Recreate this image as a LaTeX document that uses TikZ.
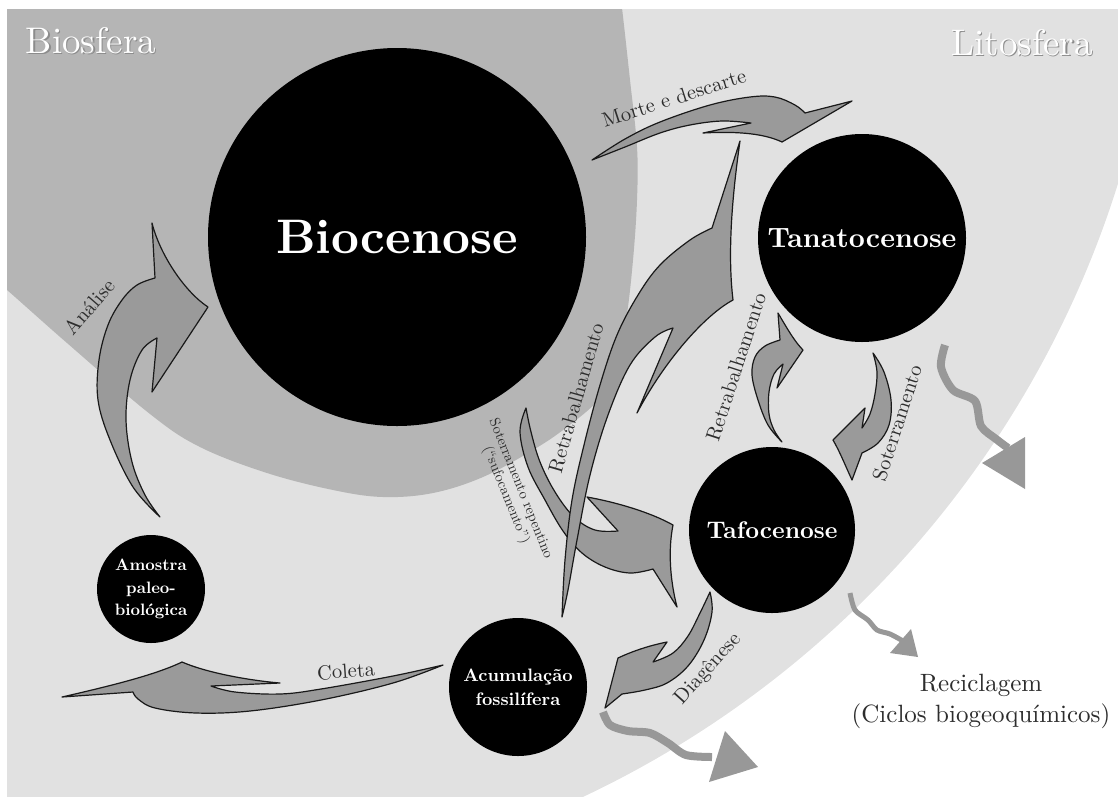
\documentclass[tikz,border=0pt]{standalone}
\usepackage{fontspec}
\setmainfont{lmroman10-regular}[Extension=.otf, BoldFont=lmroman10-bold, ItalicFont=lmroman10-italic]
\usepackage{xcolor}
\usepackage{tikz}
\usetikzlibrary{calc}

\definecolor{bioGray}{RGB}{181,181,181}
\definecolor{litoGray}{RGB}{225,225,225}
\definecolor{arrGray}{RGB}{154,154,154}
\definecolor{waveGray}{RGB}{152,152,152}
\definecolor{txtGray}{RGB}{45,45,45}

\begin{document}
\begin{tikzpicture}[
  x=1pt, y=-1pt,
  circ/.style={circle, fill=black, text=white, inner sep=0pt, align=center},
  swoosh/.style={fill=arrGray, draw=black!90, line width=1.2pt, line join=round},
  wave/.style={draw=waveGray, line width=8pt},
  wavehead/.style={fill=waveGray},
  lbl/.style={text=txtGray, inner sep=0pt, font=\fontsize{20.5}{24}\selectfont},
  sphere/.style={text=white, inner sep=0pt, anchor=base, font=\fontsize{37}{40}\selectfont},
  sphereshade/.style={sphere, text=black!45}
]
  \useasboundingbox (0,0) rectangle (1118,796);
  \begin{scope}
    \clip (7,9) rectangle (1118,796);
    \fill[litoGray] (152,-119) circle[radius=1012];
    \fill[bioGray] plot[smooth, tension=0.6] coordinates {(-20,268) (7,290) (67,343)
      (150,414) (200,447) (267,473) (333,490) (383,497) (433,493) (483,477) (533,450)
      (567,427) (600,398) (615,365) (626,320) (633,260) (637,200) (637,147) (630,80)
      (622,8) (618,-20)} -- (-20,-20) -- cycle;
  \end{scope}

  \node[sphereshade] (bioshade)  at (92.2,54.2)   {Biosfera};
  \node[sphere]      (biosfera)  at (91,53)       {Biosfera};
  \node[sphereshade] (litoshade) at (1023.2,56.2) {Litosfera};
  \node[sphere]      (litosfera) at (1022,55)     {Litosfera};

  \node[circ, minimum size=378, font=\fontsize{48.5}{50}\selectfont\bfseries]
    (bio) at (397,237) {Biocenose};
  \node[circ, minimum size=208, font=\fontsize{28}{30}\selectfont\bfseries]
    (tanato) at (862,238) {Tanatocenose};
  \node[circ, minimum size=166, font=\fontsize{24}{26}\selectfont\bfseries]
    (tafo) at (772,530) {Tafocenose};
  \node[circ, minimum size=138, font=\fontsize{18}{24}\selectfont\bfseries]
    (acum) at (518,687) {Acumulação\\fossilífera};
  \node[circ, minimum size=108, font=\fontsize{16.5}{22.5}\selectfont\bfseries]
    (amostra) at (151,589) {Amostra\\paleo-\\biológica};

  \draw[wave] plot[smooth] coordinates {(603,712) (610,725) (628,731) (650,733)
    (668,743) (686,755) (712,757)};
  \fill[wavehead] (725,731) -- (758,767) -- (709,782) -- cycle;
  \draw[wave, line width=5pt] plot[smooth] coordinates {(850,593) (855,610) (868,620)
    (877,630) (890,634) (903,641)};
  \fill[wavehead] (890,653) -- (911,629) -- (918,657) -- cycle;
  \draw[wave] plot[smooth] coordinates {(945,345) (941,367) (953,390) (975,401)
    (981,426) (996,439) (1008,448)};
  \fill[wavehead] (982,463) -- (1025,437) -- (1025,489) -- cycle;

  \filldraw[swoosh] plot[smooth, tension=0.6] coordinates {(160,517) (133,487) (110,440)
      (98,400) (99,360) (108,325) (122,300) (137,285) (155,278)}
    -- (152,223) .. controls (160,255) and (185,292) .. (208,307)
    -- (152,392) -- (157,338)
    -- plot[smooth, tension=0.6] coordinates {(157,338) (142,350) (130,380) (126,420)
      (132,462) (145,495) (160,517)} -- cycle;

  \filldraw[swoosh] plot[smooth, tension=0.6] coordinates {(592,160) (625,139) (660,122)
      (710,105) (750,97) (775,97) (795,105) (805,113)}
    -- (852,101) -- (782,142) .. controls (765,134) and (740,131) .. (703,133)
    -- (751,123) -- plot[smooth, tension=0.6] coordinates {(751,123) (722,121) (690,125)
      (660,133) (625,147) (592,160)} -- cycle;

  \filldraw[swoosh] plot[smooth, tension=0.6] coordinates {(526,408) (520,432) (528,467)
      (545,500) (563,531) (582,553) (605,567) (630,573) (653,569)}
    -- (677,607) .. controls (670,580) and (668,550) .. (673,525)
    .. controls (650,512) and (615,502) .. (587,497)
    -- (618,531) -- plot[smooth, tension=0.6] coordinates {(618,531) (595,530) (574,517)
      (555,492) (540,462) (531,432) (526,408)} -- cycle;

  \filldraw[swoosh] plot[smooth, tension=0.6] coordinates {(562,617) (565,560) (572,500)
      (584,445) (600,385) (617,335) (638,295) (660,265) (690,240) (712,228)}
    -- (740,141) .. controls (733,190) and (727,250) .. (733,300)
    .. controls (705,315) and (665,360) .. (637,413)
    -- (673,328) -- plot[smooth, tension=0.6] coordinates {(673,328) (655,337) (630,365)
      (608,415) (590,475) (577,540) (568,590) (562,617)} -- cycle;

  \filldraw[swoosh] plot[smooth, tension=0.6] coordinates {(782,442) (768,425) (758,400)
      (752,375) (755,357) (765,346) (780,340)}
    -- (778,313) .. controls (788,330) and (795,342) .. (803,350)
    -- (777,388) -- (783,364) -- plot[smooth, tension=0.6] coordinates {(783,364) (774,374)
      (769,392) (769,414) (774,430) (782,442)} -- cycle;

  \filldraw[swoosh] plot[smooth, tension=0.6] coordinates {(873,353) (884,372) (891,400)
      (889,425) (878,443) (862,453)}
    -- (852,480) .. controls (845,465) and (840,452) .. (833,440)
    -- (865,408) -- (862,428) -- plot[smooth, tension=0.6] coordinates {(862,428) (870,414)
      (875,394) (877,372) (873,353)} -- cycle;

  \filldraw[swoosh] plot[smooth, tension=0.6] coordinates {(710,592) (712,612) (704,640)
      (688,666) (667,683) (645,690) (622,694)}
    -- (605,708) -- (618,658) .. controls (635,650) and (652,645) .. (667,642)
    -- (653,662) -- plot[smooth, tension=0.6] coordinates {(653,662) (673,653) (688,636)
      (700,613) (710,592)} -- cycle;

  \filldraw[swoosh] plot[smooth, tension=0.6] coordinates {(443,665) (393,683) (321,700)
      (250,711) (196,713) (155,708) (138,699) (133,692)}
    -- (62,697) .. controls (110,686) and (155,675) .. (182,662)
    .. controls (205,672) and (245,680) .. (280,683)
    -- (211,686) -- plot[smooth, tension=0.6] coordinates {(211,686) (235,692) (280,694)
      (321,689) (393,676) (443,665)} -- cycle;

  \node[lbl, rotate=49] (analise) at (89,307) {Análise};
  \node[lbl, rotate=18] (morte) at (674,98) {Morte e descarte};
  \node[lbl, rotate=74] (retrabA) at (576,398) {Retrabalhamento};
  \node[lbl, rotate=72] (retrabB) at (736,367) {Retrabalhamento};
  \node[lbl, rotate=72] (soterr) at (897,423) {Soterramento};
  \node[lbl, rotate=48] (diagen) at (708,669) {Diagênese};
  \node[lbl, rotate=4] (coleta) at (346,671) {Coleta};
  \node[lbl, rotate=-68, align=center, font=\fontsize{14.5}{16}\selectfont]
    (sotrepL) at (513,492) {Soterramento repentino\\(“sufocamento”)};
  \node[text=txtGray, align=center, font=\fontsize{25}{31}\selectfont]
    (recicla) at (981,701) {Reciclagem\\(Ciclos biogeoquímicos)};
\end{tikzpicture}
\end{document}
